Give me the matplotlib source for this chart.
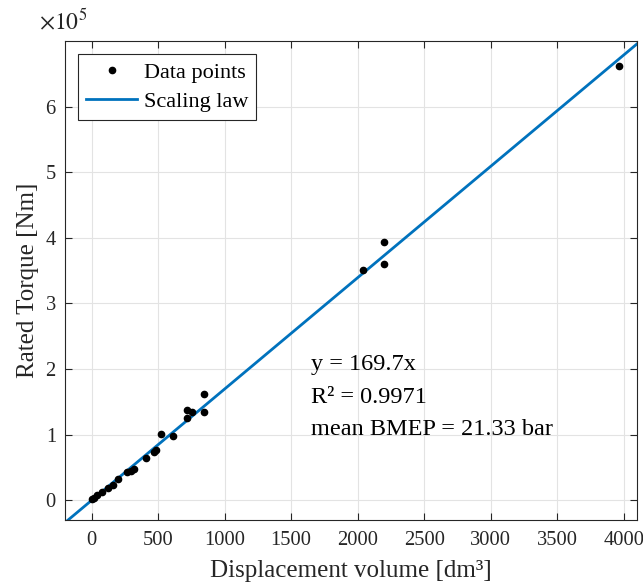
import numpy as np
import matplotlib
matplotlib.use("Agg")
import matplotlib.pyplot as plt
from matplotlib.ticker import ScalarFormatter

# displacement volume [dm3] and rated torque [Nm]
volume = [5, 17, 38, 80, 125, 160, 200, 268, 293, 318, 406, 469, 486, 524, 609,
          719, 719, 757, 844, 844, 2040, 2198, 2198, 3960]
torque = [2500, 4000, 7600, 12000, 19000, 24000, 32000, 43000, 45500, 48000, 65000,
          74000, 76000, 101000, 98500, 137000, 125000, 134000, 162600, 134000,
          351000, 394000, 360000, 662000]
slope = 169.7
fitText = ["y = 169.7x", "R² = 0.9971", "mean BMEP = 21.33 bar"]

plt.rcParams["font.family"] = ["Liberation Serif", "DejaVu Serif"]
plt.rcParams["mathtext.fontset"] = "stix"

fig = plt.figure(figsize=(6.43, 5.85), dpi=100)
ax = fig.add_axes([0.101, 0.111, 0.890, 0.819])

xLine = np.array([-200.0, 4100.0])
ax.plot(volume, torque, "o", color="black", markersize=4.5, label="Data points", zorder=3)
ax.plot(xLine, slope * xLine, color="#0072BD", linewidth=2.0, label="Scaling law", zorder=2)

ax.set_xlim(-200, 4100)
ax.set_ylim(-30000, 700000)
ax.set_xticks(np.arange(0, 4001, 500))
ax.set_yticks(np.arange(0, 600001, 100000))

fmt = ScalarFormatter(useMathText=True)
fmt.set_powerlimits((0, 0))
ax.yaxis.set_major_formatter(fmt)
ax.yaxis.get_offset_text().set_visible(False)
ax.text(-0.045, 1.014, r"$\times10^5$", transform=ax.transAxes, fontsize=17,
        color="#262626", ha="left", va="bottom")

ax.grid(True, color="#e3e3e3", linewidth=0.8)
ax.set_axisbelow(True)
ax.tick_params(direction="in", top=True, right=True, labelsize=14.8, colors="#262626", length=5)
ax.tick_params(axis="x", pad=8)
ax.tick_params(axis="y", pad=6)
for spine in ax.spines.values():
    spine.set_color("#262626")
    spine.set_linewidth(0.8)

ax.set_xlabel("Displacement volume [dm³]", fontsize=18, color="#262626", labelpad=7)
ax.set_ylabel("Rated Torque [Nm]", fontsize=18, color="#262626", labelpad=4)

for lineIndex, lineText in enumerate(fitText):
    ax.text(1650, 207000 - lineIndex * 49500, lineText, fontsize=17.5, va="center", ha="left")

leg = ax.legend(loc="upper left", fancybox=False, edgecolor="#262626", framealpha=1,
                fontsize=16, handlelength=2.3, borderpad=0.35, labelspacing=0.4,
                handletextpad=0.3, borderaxespad=0.6)
leg.get_frame().set_linewidth(0.8)

fig.savefig("out.png", dpi=100)
